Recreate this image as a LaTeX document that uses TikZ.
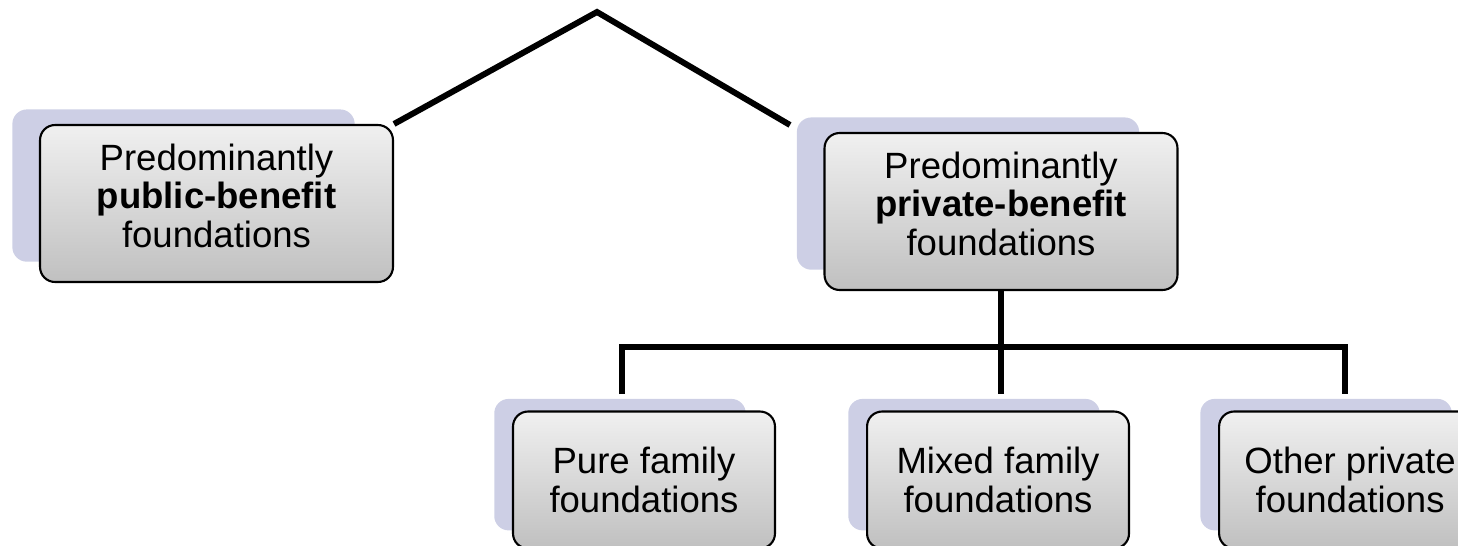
\documentclass[tikz,border=0pt]{standalone}
\usepackage{fontspec}
\setmainfont{Liberation Sans}
\usetikzlibrary{shadows,positioning,calc}
\definecolor{lavender}{RGB}{205,207,229}
\definecolor{boxtop}{RGB}{240,240,240}
\definecolor{boxbottom}{RGB}{192,192,192}

\tikzset{
  conn/.style={line width=3.4pt},
  fbox/.style={rectangle, rounded corners=0.3cm, draw, line width=1.2pt,
    top color=boxtop, bottom color=boxbottom, align=center, inner sep=0pt,
    font=\fontsize{20.8}{22}\selectfont},
  bigbox/.style={fbox, minimum width=7.06cm, minimum height=3.14cm,
    general shadow={fill=lavender, shadow xshift=-0.68cm, shadow yshift=0.37cm, shadow scale=0.97},
    execute at end node={\rule[-0.32cm]{0pt}{0pt}}},
  smallbox/.style={fbox, minimum width=5.24cm, minimum height=2.74cm,
    general shadow={fill=lavender, shadow xshift=-0.5cm, shadow yshift=0.32cm, shadow scale=0.96}},
}

\begin{document}
\begin{tikzpicture}[x=0.02cm, y=-0.02cm]
  \useasboundingbox (0,0) rectangle (1458,545);
  \clip (0,0) rectangle (1458,545);

  % top level
  \coordinate (apex) at (597,12);
  \node[bigbox] (public) at (216.5,203.5) {Predominantly\\\textbf{public-benefit}\\foundations};
  \node[bigbox] (private) at (1001,211.5) {Predominantly\\\textbf{private-benefit}\\foundations};
  \coordinate (privtip) at (790,125);
  \draw[conn] (public.north east) -- (apex) -- (privtip);

  % private-benefit branches
  \node[smallbox] (pure) at (644,480) {Pure family\\foundations};
  \node[smallbox, right=1.8cm of pure] (mixed) {Mixed family\\foundations};
  \node[smallbox, right=1.76cm of mixed] (other) {Other private\\foundations};

  \coordinate (fork) at (1001,347);
  \coordinate (drop1) at (622,394);
  \coordinate (drop2) at (1001,394);
  \coordinate (drop3) at (1345,394);
  \draw[conn] (drop1) -- (drop1 |- fork) -- (drop3 |- fork) -- (drop3);
  \draw[conn] (private.south) -- (drop2);
\end{tikzpicture}
\end{document}
